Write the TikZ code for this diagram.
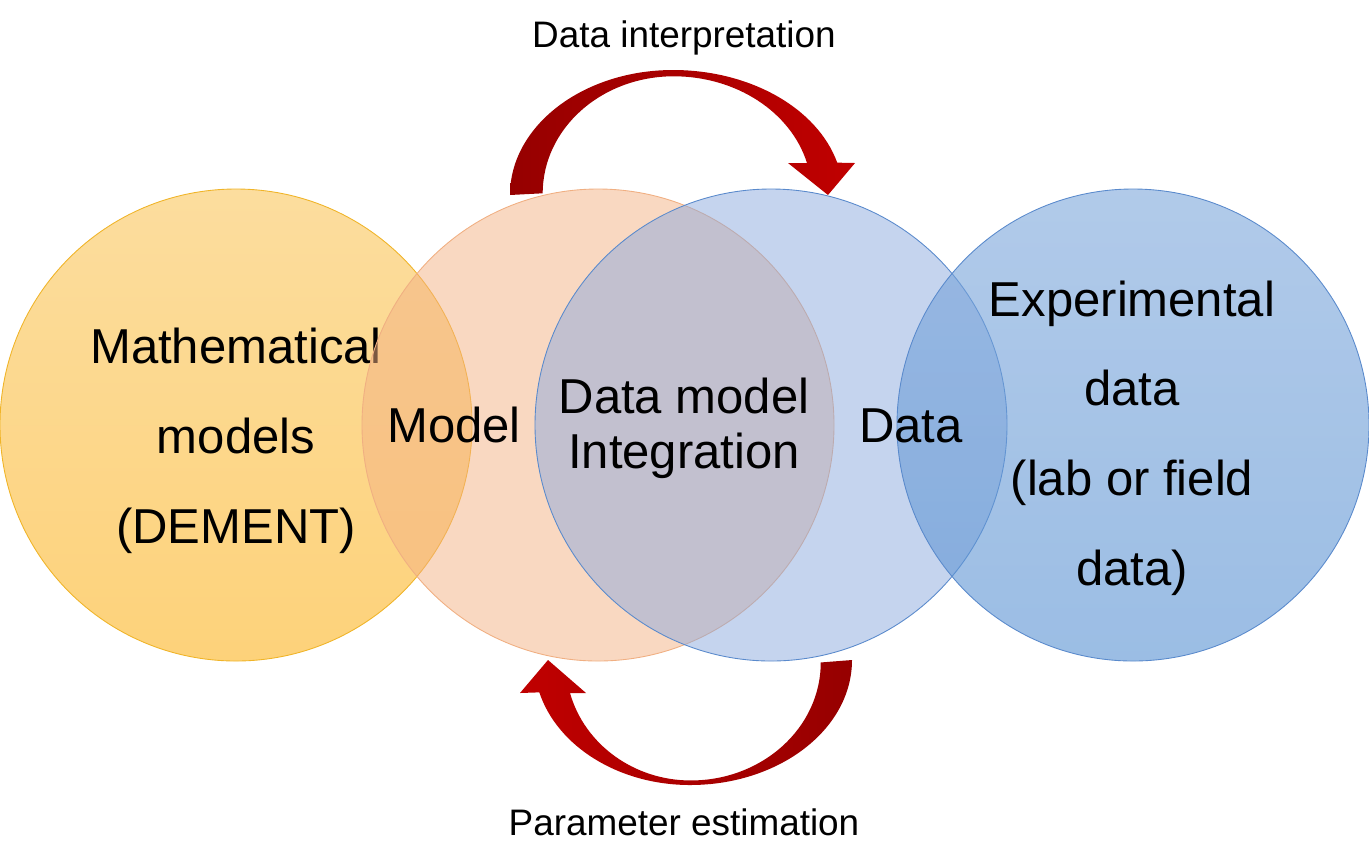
\documentclass[tikz,border=0pt]{standalone}
\usepackage{fontspec}
\setmainfont{Liberation Sans}
\usepackage{xcolor}
\usepackage{tikz}

\definecolor{mathtop}{RGB}{252,221,158}
\definecolor{mathbottom}{RGB}{253,210,122}
\definecolor{mathedge}{RGB}{240,180,40}
\definecolor{peachfill}{RGB}{244,177,131}
\definecolor{peachedge}{RGB}{240,175,130}
\definecolor{lightblue}{RGB}{139,169,221}
\definecolor{blueedge}{RGB}{90,138,204}
\definecolor{expttop}{RGB}{125,167,219}
\definecolor{exptbottom}{RGB}{88,145,210}
\definecolor{arrowred}{RGB}{192,0,0}
\definecolor{arrowdark}{RGB}{150,0,0}

\begin{document}
\begin{tikzpicture}[
  x=0.02cm, y=-0.02cm,
  every node/.style={
    align=center, inner sep=0pt, anchor=base, text=black
  },
  big/.style={font=\fontsize{27.9}{51}\selectfont},
  tight/.style={font=\fontsize{27.9}{31.3}\selectfont},
  small/.style={font=\fontsize{21}{25}\selectfont},
  venn/.style={line width=0.5pt}
]
\useasboundingbox (0,0) rectangle (1369,867);

% left circle, its text sits under the next circle
\draw[venn, draw=mathedge, top color=mathtop, bottom color=mathbottom] (236,425) circle[radius=236];
\node[big] (maths) at (236,543) {Mathematical\\models\\(DEMENT)};

\draw[venn, draw=peachedge, fill=peachfill, fill opacity=0.5] (598,425) circle[radius=236];
\draw[venn, draw=blueedge, fill=lightblue, fill opacity=0.5] (771,425) circle[radius=236];
\draw[venn, draw=blueedge, top color=expttop, bottom color=exptbottom, fill opacity=0.6] (1133,425) circle[radius=236];

\node[big] (model) at (454,442) {Model};
\node[tight] (integ) at (684,468) {Data model\\Integration};
\node[big] (data) at (911,442) {Data};
\node[big] (expt) at (1132,585) {Experimental\\data\\(lab or field\\data)};

% curved arrows
\shade[left color=arrowdark, right color=arrowred]
  (510,195) arc[start angle=180, end angle=270, x radius=163, y radius=125]
  arc[start angle=270, end angle=345, x radius=170, y radius=125]
  -- (855,163) -- (828,195) -- (788,163) -- (807,163)
  arc[start angle=345, end angle=270, x radius=138, y radius=117]
  arc[start angle=270, end angle=180, x radius=131, y radius=117]
  -- cycle;
\shade[left color=arrowred, right color=arrowdark]
  (852,660) arc[start angle=0, end angle=90, x radius=162, y radius=125]
  arc[start angle=90, end angle=165, x radius=156, y radius=125]
  -- (520,693) -- (548,660) -- (586,693) -- (570,693)
  arc[start angle=165, end angle=90, x radius=125, y radius=118]
  arc[start angle=90, end angle=0, x radius=130, y radius=118]
  -- cycle;

\node[small] (interp) at (684,47) {Data interpretation};
\node[small] (param) at (684,835) {Parameter estimation};
\end{tikzpicture}
\end{document}
